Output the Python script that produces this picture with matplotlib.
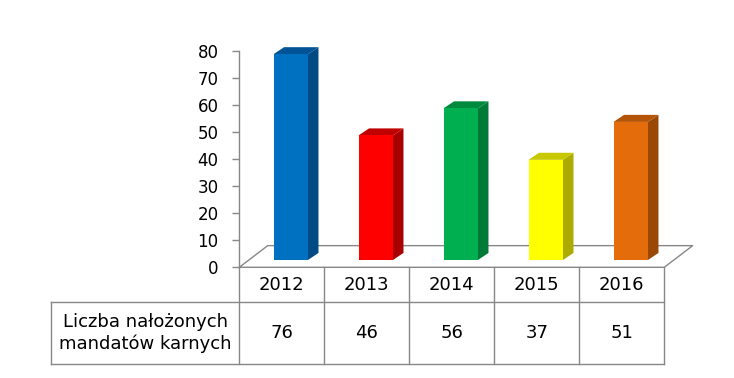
import matplotlib
matplotlib.use("Agg")
import matplotlib.pyplot as plt
from matplotlib.patches import Polygon

# data
years = ["2012", "2013", "2014", "2015", "2016"]
values = [76, 46, 56, 37, 51]
row_label = "Liczba nałożonych\nmandatów karnych"
yticks = [0, 10, 20, 30, 40, 50, 60, 70, 80]

# colours: front, side, top
front_cols = ["#0070C0", "#FF0000", "#00B050", "#FFFF00", "#E46C0A"]
side_cols = ["#004B84", "#A80000", "#007A36", "#ABAB00", "#9A4806"]
top_cols = ["#005496", "#C00000", "#008A3E", "#C8C800", "#B35408"]

grey = "#878787"

# 3d look (data units)
floor_dx, floor_dy = 0.334, 8.0
bar_dx, bar_dy = 0.124, 2.6
bar_w = 0.405
off_x = (floor_dx - bar_dx) / 2
off_y = (floor_dy - bar_dy) / 2

fig = plt.figure(figsize=(7.34, 3.78), dpi=100)
ax = fig.add_axes([239.3 / 734, 1 - 267.3 / 378, 425 / 734, 216.6 / 378])
ax.set_xlim(-0.5, len(years) - 0.5)
ax.set_ylim(0, 80)

# floor
n = len(years)
fx = [-0.5, n - 0.5, n - 0.5 + floor_dx, -0.5 + floor_dx, -0.5]
fy = [0, 0, floor_dy, floor_dy, 0]
ax.plot(fx, fy, color=grey, lw=1.0, clip_on=False, zorder=1)

# bars
xs = list(range(n))
bars = ax.bar([x + off_x for x in xs], values, bottom=off_y, width=bar_w,
              color=front_cols, edgecolor="none", zorder=3, clip_on=False)
for i, b in enumerate(bars):
    xl = b.get_x()
    xr = xl + b.get_width()
    base = off_y
    top = off_y + values[i]
    side = Polygon([(xr, base), (xr + bar_dx, base + bar_dy),
                    (xr + bar_dx, top + bar_dy), (xr, top)],
                   closed=True, facecolor=side_cols[i], edgecolor="none",
                   zorder=2, clip_on=False)
    lid = Polygon([(xl, top), (xr, top), (xr + bar_dx, top + bar_dy),
                   (xl + bar_dx, top + bar_dy)],
                  closed=True, facecolor=top_cols[i], edgecolor="none",
                  zorder=2, clip_on=False)
    ax.add_patch(side)
    ax.add_patch(lid)

# axes look
for s in ["top", "right", "bottom"]:
    ax.spines[s].set_visible(False)
ax.spines["left"].set_color(grey)
ax.spines["left"].set_linewidth(1.0)
ax.set_xticks([])
ax.set_yticks(yticks)
ax.tick_params(axis="y", length=5, width=1.0, color=grey, pad=10,
               labelsize=12, labelcolor="black")

# data table below the plot (axes fraction)
h1, h2 = -0.160, -0.446
left = -0.443
tl = dict(color=grey, lw=1.0, transform=ax.transAxes, clip_on=False)
ax.plot([0, 0], [0, h2], **tl)
for i in range(n):
    ax.plot([(i + 1) / n, (i + 1) / n], [0, h2], **tl)
ax.plot([left, 1], [h1, h1], **tl)
ax.plot([left, 1], [h2, h2], **tl)
ax.plot([left, left], [h1, h2], **tl)

for i in range(n):
    ax.text((i + 0.5) / n, h1 / 2, years[i], transform=ax.transAxes,
            ha="center", va="center", fontsize=13)
    ax.text((i + 0.5) / n, (h1 + h2) / 2, str(values[i]), transform=ax.transAxes,
            ha="center", va="center", fontsize=13)
ax.text(left / 2, (h1 + h2) / 2, row_label, transform=ax.transAxes,
        ha="center", va="center", fontsize=13, linespacing=1.25)

fig.savefig("out.png", dpi=100)
